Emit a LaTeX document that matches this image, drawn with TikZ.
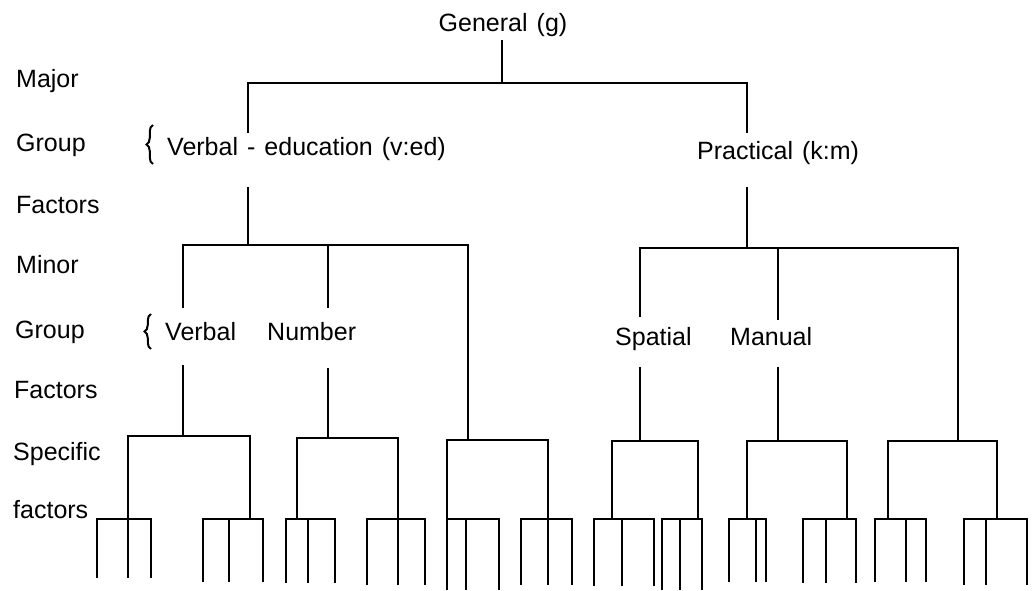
\documentclass[tikz,border=0pt]{standalone}
\usepackage{fontspec}
\setmainfont{Liberation Sans}[WordSpace=1.3]
\usetikzlibrary{decorations.pathreplacing}
\begin{document}
\begin{tikzpicture}[x=1pt,y=-1pt,
  ln/.style={line width=2.5pt},
  txt/.style={font=\fontsize{25}{28}\selectfont, inner sep=0pt, anchor=base west},
  brc/.style={decorate, decoration={brace, amplitude=6.5pt}, line width=2pt}]
\useasboundingbox (0,0) rectangle (1036,591);
\fill[white] (0,0) rectangle (1036,591);

% row labels
\node[txt] (l1) at (16,88) {Major};
\node[txt] (l2) at (16,152) {Group};
\node[txt] (l3) at (16,213) {Factors};
\node[txt] (l4) at (16,273) {Minor};
\node[txt] (l5) at (15,338) {Group};
\node[txt] (l6) at (14,398) {Factors};
\node[txt] (l7) at (13,460) {Specific};
\node[txt] (l8) at (13,518) {factors};

% factor names
\node[txt, anchor=base] (g) at (503,32) {General (g)};
\node[txt] (ved) at (167,155) {Verbal - education (v:ed)};
\node[txt] (pr) at (697,160) {Practical (k:m)};
\node[txt] (vb) at (165,340) {Verbal};
\node[txt] (nm) at (267,340) {Number};
\node[txt] (sp) at (615,345) {Spatial};
\node[txt] (mn) at (730,345) {Manual};

% braces
\draw[brc] (153,164) -- (153,125);
\draw[brc] (151,349) -- (151,314);

% general -> major group factors
\coordinate (gB) at (502,40);
\coordinate (mj) at (502,83);
\coordinate (veT) at (248,133);
\coordinate (prT) at (747,133);
\draw[ln] (gB) -- (mj);
\draw[ln] (veT) |- (mj) -| (prT);

% verbal-education -> minor group factors
\coordinate (veB) at (248,187);
\coordinate (veM) at (248,245);
\coordinate (vbT) at (183,308);
\coordinate (nmT) at (328,308);
\coordinate (v3) at (468,440);
\draw[ln] (veB) -- (veM);
\draw[ln] (vbT) |- (v3 |- veM) -- (v3);
\draw[ln] (nmT) -- (nmT |- veM);

% practical -> minor group factors
\coordinate (prB) at (747,187);
\coordinate (prM) at (747,248);
\coordinate (spT) at (640,317);
\coordinate (mnT) at (778,320);
\coordinate (p3) at (958,440);
\draw[ln] (prB) -- (prM);
\draw[ln] (spT) |- (p3 |- prM) -- (p3);
\draw[ln] (mnT) -- (mnT |- prM);

% minor factors -> specific groups
\coordinate (vbB) at (183,365);
\coordinate (nmB) at (328,368);
\coordinate (spB) at (640,367);
\coordinate (mnB) at (778,367);
\draw[ln] (vbB) -- (183,436);
\draw[ln] (128,519) |- (250,436) -- (250,519);
\draw[ln] (nmB) -- (328,438);
\draw[ln] (297,519) |- (398,438) -- (398,519);
\draw[ln] (447,519) |- (548,440) -- (548,519);
\draw[ln] (spB) -- (640,441);
\draw[ln] (612,519) |- (698,441) -- (698,519);
\draw[ln] (mnB) -- (778,441);
\draw[ln] (747,519) |- (847,441) -- (847,519);
\draw[ln] (888,519) |- (997,441) -- (997,519);

% specific factors
\foreach \l/\m/\r/\b/\n in {97/128/151/578/A, 203/229/263/582/B, 286/308/335/583/C,
  367/398/425/585/D, 447/466/499/590/E, 521/548/572/585/F, 594/622/654/586/G,
  662/680/702/590/H, 729/756/766/582/I, 803/826/856/583/J, 875/906/926/582/K,
  964/986/1027/585/L} {
  \coordinate (sf\n) at (\m,519);
  \draw[ln] (\l,\b) |- (\r,519) -- (\r,\b);
  \draw[ln] (sf\n) -- (\m,\b);
}
\end{tikzpicture}
\end{document}
